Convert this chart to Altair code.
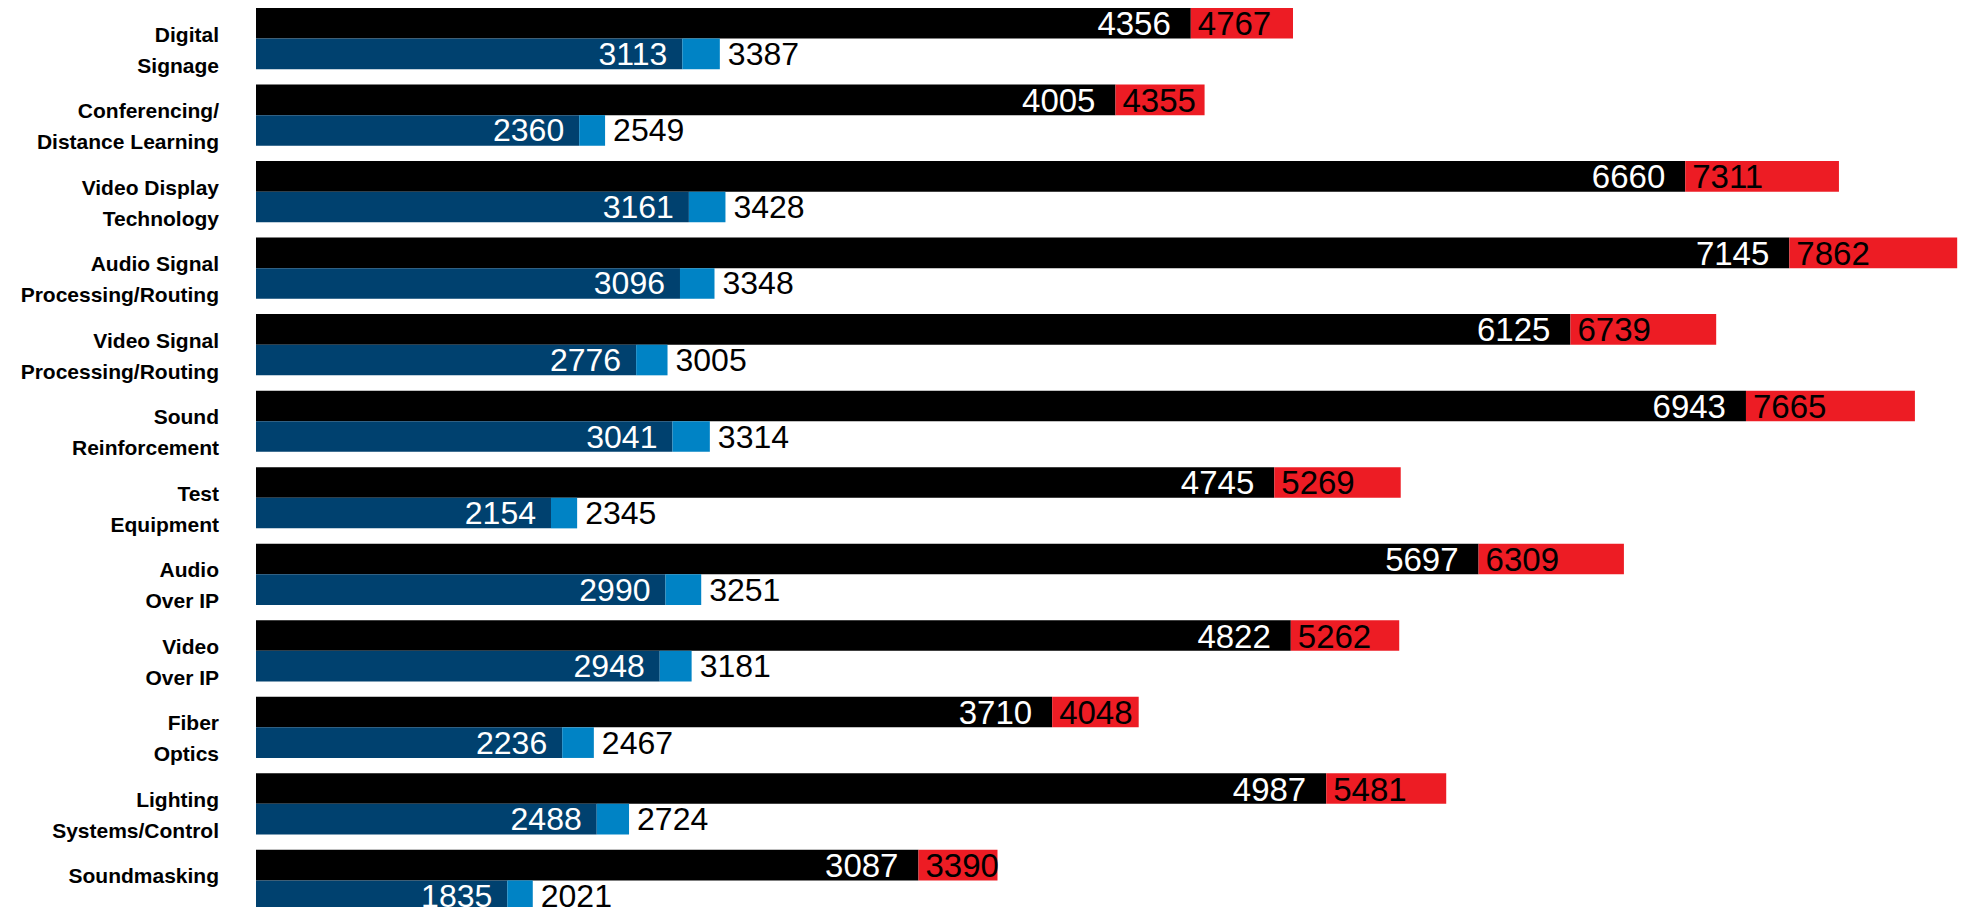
import altair as alt
import pandas as pd

categories = [
    "Digital\nSignage",
    "Conferencing/\nDistance Learning",
    "Video Display\nTechnology",
    "Audio Signal\nProcessing/Routing",
    "Video Signal\nProcessing/Routing",
    "Sound\nReinforcement",
    "Test\nEquipment",
    "Audio\nOver IP",
    "Video\nOver IP",
    "Fiber\nOptics",
    "Lighting\nSystems/Control",
    "Soundmasking",
]
top_base = [4356, 4005, 6660, 7145, 6125, 6943, 4745, 5697, 4822, 3710, 4987, 3087]
top_total = [4767, 4355, 7311, 7862, 6739, 7665, 5269, 6309, 5262, 4048, 5481, 3390]
bottom_base = [3113, 2360, 3161, 3096, 2776, 3041, 2154, 2990, 2948, 2236, 2488, 1835]
bottom_total = [3387, 2549, 3428, 3348, 3005, 3314, 2345, 3251, 3181, 2467, 2724, 2021]

top_df = pd.DataFrame({"cat": categories, "row": "top", "base": top_base, "total": top_total})
bot_df = pd.DataFrame({"cat": categories, "row": "bottom", "base": bottom_base, "total": bottom_total})
lab_df = pd.DataFrame({"cat": categories})

BLACK = "#000000"
RED = "#ED1C24"
DARK = "#00416F"
LIGHT = "#0083C5"
NUM_FONT = "Liberation Sans"
LAB_FONT = "Liberation Sans"

y_enc = alt.Y("cat:N", sort=categories, axis=None,
              scale=alt.Scale(domain=categories, range=[0, 903], paddingInner=0.2, paddingOuter=0))
yoff = alt.YOffset("row:N", scale=alt.Scale(domain=["top", "bottom"], paddingInner=0, paddingOuter=0))

xa = alt.Scale(domain=[0, 7945], nice=False, zero=False)
xb = alt.Scale(domain=[0, 12450], nice=False, zero=False)


def xenc(field, sc):
    return alt.X(f"{field}:Q", scale=sc, axis=None)


top = alt.Chart(top_df)
bot = alt.Chart(bot_df)

black_bar = top.mark_bar(color=BLACK).encode(
    x=alt.X("zero:Q", scale=xa, axis=None), x2="base:Q", y=y_enc, yOffset=yoff
).transform_calculate(zero="0")
red_bar = top.mark_bar(color=RED, x2Offset=14).encode(x=xenc("base", xa), x2="total:Q", y=y_enc, yOffset=yoff)
black_txt = top.mark_text(color="white", align="right", baseline="middle", dx=-20, dy=2,
                          font=NUM_FONT, fontSize=33).encode(x=xenc("base", xa), y=y_enc, yOffset=yoff, text="base:Q")
red_txt = top.mark_text(color="black", align="left", baseline="middle", dx=7, dy=2,
                        font=NUM_FONT, fontSize=33).encode(x=xenc("base", xa), y=y_enc, yOffset=yoff, text="total:Q")

dark_bar = bot.mark_bar(color=DARK).encode(
    x=alt.X("zero:Q", scale=xb, axis=None), x2="base:Q", y=y_enc, yOffset=yoff
).transform_calculate(zero="0")
light_bar = bot.mark_bar(color=LIGHT).encode(x=xenc("base", xb), x2="total:Q", y=y_enc, yOffset=yoff)
dark_txt = bot.mark_text(color="white", align="right", baseline="middle", dx=-15, dy=1,
                         font=NUM_FONT, fontSize=32).encode(x=xenc("base", xb), y=y_enc, yOffset=yoff, text="base:Q")
light_txt = bot.mark_text(color="black", align="left", baseline="middle", dx=8, dy=1,
                          font=NUM_FONT, fontSize=32).encode(x=xenc("total", xb), y=y_enc, yOffset=yoff, text="total:Q")

cat_txt = alt.Chart(lab_df).mark_text(align="right", baseline="middle", lineBreak="\n", lineHeight=31,
                                      font=LAB_FONT, fontWeight="bold", fontSize=21, dy=-3, color="black").encode(
    x=alt.value(-37), y=y_enc, text="cat:N")

chart = alt.layer(
    black_bar, red_bar, black_txt, red_txt,
    dark_bar, light_bar, dark_txt, light_txt, cat_txt,
).resolve_scale(x="independent").properties(
    width=1705, height=899,
    autosize=alt.AutoSizeParams(type="none"),
    padding={"left": 248, "top": 0, "right": 0, "bottom": 0},
).configure_view(stroke=None)

chart.save("out.html", embed_options={"renderer": "svg", "actions": False})
